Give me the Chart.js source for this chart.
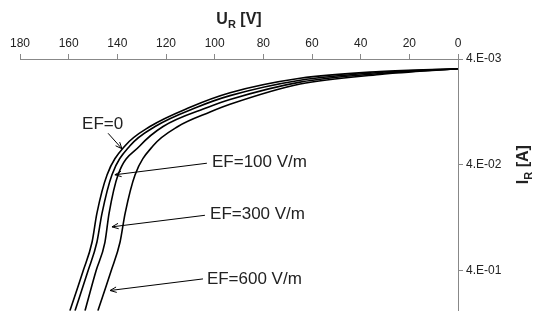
<!DOCTYPE html>
<html>
<head>
<meta charset="utf-8">
<script src="https://cdn.jsdelivr.net/npm/chart.js@4.4.0/dist/chart.umd.min.js"></script>
<style>
  html, body { margin: 0; padding: 0; background: #fff; }
  #wrap { width: 538px; height: 321px; }
</style>
</head>
<body>
<div id="wrap"><canvas id="ivChart" width="538" height="321"></canvas></div>
<script>
// reverse voltage U_R [V] / reverse current I_R [A]
const uEF0 = [0, 32.1, 64.9, 93.7, 110.1, 126.6, 136.8, 144.2, 148.4, 150.4, 154.1, 159.5];
const iEF0 = [4.94e-3, 5.26e-3, 6.09e-3, 8.35e-3, 1.145e-2, 1.743e-2, 2.65e-2, 4.99e-2, 0.1157, 0.2174, 0.408, 0.968];

const uEF100 = [0, 32.1, 64.9, 93.7, 107.3, 124.5, 134.8, 142.2, 146.3, 148.4, 152.1, 157.4];
const iEF100 = [4.94e-3, 5.37e-3, 6.35e-3, 8.89e-3, 1.145e-2, 1.743e-2, 2.65e-2, 4.99e-2, 0.1157, 0.2174, 0.408, 0.968];

const uEF300 = [0, 32.1, 64.9, 93.7, 102.7, 121.2, 130.7, 139.7, 143.4, 145.1, 148.8, 153.3];
const iEF300 = [4.94e-3, 5.48e-3, 6.62e-3, 9.67e-3, 1.145e-2, 1.743e-2, 2.65e-2, 4.99e-2, 0.1157, 0.2174, 0.408, 0.968];

const uEF600 = [0, 32.1, 64.9, 93.7, 101.9, 115.1, 125.3, 132.7, 136.8, 138.9, 142.6, 148.0];
const iEF600 = [4.94e-3, 5.60e-3, 6.91e-3, 1.075e-2, 1.272e-2, 1.743e-2, 2.65e-2, 4.99e-2, 0.1157, 0.2174, 0.408, 0.968];

const yTickValues = [4e-3, 4e-2, 4e-1];
const yTickLabels = ['4.E-03', '4.E-02', '4.E-01'];

// labels + arrows, anchored in data units (U, I)
const noteText = ['EF=0', 'EF=100 V/m', 'EF=300 V/m', 'EF=600 V/m'];
const noteAt = [[154.5, 1.671e-2], [101.1, 3.80e-2], [101.9, 0.1181], [103.2, 0.483]];
const arrowFrom = [[143.8, 2.02e-2], [103.2, 3.88e-2], [104.0, 0.1207], [104.8, 0.483]];
const arrowTo = [[138.1, 2.83e-2], [141.0, 4.99e-2], [142.2, 0.1553], [143.0, 0.622]];

const FONT = "'Liberation Sans', Arial, sans-serif";

function toPoints(us, is) {
    return us.map((u, k) => ({ x: u, y: is[k] }));
}

function curve(label, us, is) {
    return {
        label: label,
        data: toPoints(us, is),
        borderColor: '#000',
        borderWidth: 1.6,
        pointRadius: 0,
        cubicInterpolationMode: 'monotone',
        fill: false
    };
}

const textPlugin = {
    id: 'texts',
    afterDraw(chart) {
        const c = chart.ctx;
        const xs = chart.scales.x;
        const ys = chart.scales.y;
        c.save();
        c.fillStyle = '#222';
        c.strokeStyle = '#000';

        // x title  U_R [V]
        const cx = (chart.chartArea.left + chart.chartArea.right) / 2;
        c.font = 'bold 16px ' + FONT;
        const wU = c.measureText('U').width;
        const wT = c.measureText(' [V]').width;
        c.font = 'bold 11px ' + FONT;
        const wR = c.measureText('R').width;
        let x0 = cx - (wU + wR + wT) / 2;
        c.textBaseline = 'alphabetic';
        c.textAlign = 'left';
        c.font = 'bold 16px ' + FONT;
        c.fillText('U', x0, 24);
        c.font = 'bold 11px ' + FONT;
        c.fillText('R', x0 + wU, 28);
        c.font = 'bold 16px ' + FONT;
        c.fillText(' [V]', x0 + wU + wR, 24);

        // y title  I_R [A], rotated
        c.save();
        c.translate(528, ys.getPixelForValue(4e-2));
        c.rotate(-Math.PI / 2);
        c.font = 'bold 16px ' + FONT;
        const wI = c.measureText('I').width;
        const wA = c.measureText(' [A]').width;
        c.font = 'bold 11px ' + FONT;
        const wR2 = c.measureText('R').width;
        x0 = -(wI + wR2 + wA) / 2;
        c.font = 'bold 16px ' + FONT;
        c.fillText('I', x0, 0);
        c.font = 'bold 11px ' + FONT;
        c.fillText('R', x0 + wI, 4);
        c.font = 'bold 16px ' + FONT;
        c.fillText(' [A]', x0 + wI + wR2, 0);
        c.restore();

        // annotations
        c.font = '17px ' + FONT;
        c.textBaseline = 'middle';
        c.lineWidth = 1;
        noteText.forEach((t, k) => {
            c.fillText(t, xs.getPixelForValue(noteAt[k][0]), ys.getPixelForValue(noteAt[k][1]));
            const ax = xs.getPixelForValue(arrowFrom[k][0]);
            const ay = ys.getPixelForValue(arrowFrom[k][1]);
            const bx = xs.getPixelForValue(arrowTo[k][0]);
            const by = ys.getPixelForValue(arrowTo[k][1]);
            c.beginPath();
            c.moveTo(ax, ay);
            c.lineTo(bx, by);
            const ang = Math.atan2(by - ay, bx - ax);
            const h = 7;
            c.moveTo(bx - h * Math.cos(ang - 0.4), by - h * Math.sin(ang - 0.4));
            c.lineTo(bx, by);
            c.lineTo(bx - h * Math.cos(ang + 0.4), by - h * Math.sin(ang + 0.4));
            c.stroke();
        });
        c.restore();
    }
};

const ctx = document.getElementById('ivChart').getContext('2d');

new Chart(ctx, {
    type: 'line',
    data: {
        datasets: [
            curve('EF=0', uEF0, iEF0),
            curve('EF=100 V/m', uEF100, iEF100),
            curve('EF=300 V/m', uEF300, iEF300),
            curve('EF=600 V/m', uEF600, iEF600)
        ]
    },
    options: {
        responsive: false,
        animation: false,
        layout: { padding: { left: 20, right: 0, top: 0, bottom: 0 } },
        plugins: {
            legend: { display: false },
            tooltip: { enabled: false }
        },
        scales: {
            x: {
                type: 'linear',
                position: 'top',
                reverse: true,
                min: 0,
                max: 180,
                ticks: {
                    stepSize: 20,
                    color: '#222',
                    padding: 3,
                    maxRotation: 0,
                    font: { family: FONT, size: 12 }
                },
                grid: { drawOnChartArea: false, tickLength: 5, color: '#888' },
                border: { color: '#888' },
                afterFit(scale) { scale.height = 59; }
            },
            y: {
                type: 'logarithmic',
                position: 'right',
                reverse: true,
                min: 4e-3,
                max: 0.968,
                afterBuildTicks(scale) {
                    scale.ticks = yTickValues.map(v => ({ value: v }));
                },
                ticks: {
                    color: '#222',
                    padding: 3,
                    font: { family: FONT, size: 12 },
                    callback: (v, idx) => yTickLabels[idx]
                },
                grid: { drawOnChartArea: false, tickLength: 5, color: '#888' },
                border: { color: '#888' },
                afterFit(scale) { scale.width = 80; }
            }
        }
    },
    plugins: [textPlugin]
});
</script>
</body>
</html>
